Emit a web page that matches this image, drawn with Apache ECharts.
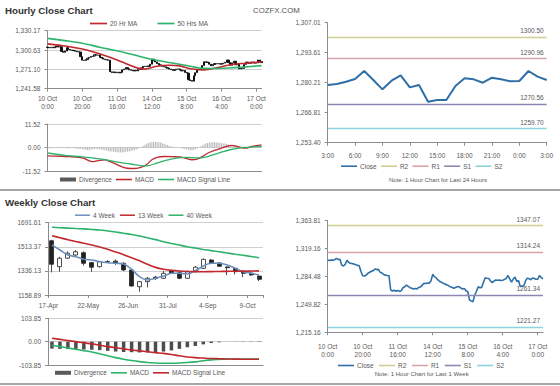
<!DOCTYPE html>
<html><head><meta charset="utf-8">
<script src="https://cdn.jsdelivr.net/npm/echarts@6/dist/echarts.min.js"></script>
<style>html,body{margin:0;padding:0;background:#fff}#c{width:560px;height:386px}</style>
</head><body><div id="c"></div>
<script>
// ================= DATA =================
// Hourly (last 1 week) category days / hours per day
const hourDays = ['10 Oct','11 Oct','14 Oct','15 Oct','16 Oct','17 Oct'];
const hoursPerDay = [24,24,24,24,24,4];
// Hourly close prices (10 Oct 0:00 .. 17 Oct 3:00)
const hourlyClose = [
 1304.5,1304.0,1304.8,1304.2,1305.0,1306.7,1305.2,1305.6,1298.5,1297.2,
 1299.2,1304.3,1301.5,1300.6,1300.2,1299.8,1298.9,1298.0,1297.6,1290.5,
 1285.2,1284.8,1286.0,1288.2,1289.5,1290.8,1291.5,1293.5,1292.8,1293.0,
 1289.4,1288.5,1286.8,1285.9,1285.5,1285.2,1267.5,1266.3,1267.2,1266.0,
 1266.8,1265.8,1266.5,1270.4,1271.5,1273.7,1272.0,1270.4,1269.8,1268.8,
 1269.5,1268.8,1270.8,1271.2,1273.5,1275.8,1275.5,1276.0,1275.8,1279.0,
 1286.9,1284.0,1282.5,1280.0,1278.0,1277.0,1275.8,1275.0,1273.7,1273.0,
 1271.5,1270.8,1269.6,1270.5,1271.5,1271.8,1270.0,1268.8,1269.5,1266.5,
 1265.4,1255.2,1254.0,1253.1,1261.3,1266.0,1271.5,1270.4,1270.8,1277.0,
 1282.8,1282.0,1281.8,1279.0,1276.6,1278.5,1279.9,1279.5,1279.9,
 1279.17,1279.62,1280.66,1281.85,1285.43,1281.41,1277.24,1281.11,1283.49,1278.13,
 1279.17,1271.73,1272.47,1272.47,1278.73,1282.15,1281.71,1280.21,1282.45,1281.71,
 1280.81,1280.96,1285.43,1282.90,1281.41
];
const hourlyOpen0 = 1305.2;
// moving averages [hour index, value]
const ma20Hr = [[0,1310],[8,1307.5],[16,1304],[24,1299.5],[32,1293],[40,1285.5],[46,1279],[52,1273],[56,1271.5],[62,1275.5],[70,1277.5],[76,1276.5],[82,1272],[90,1270.3],[98,1274],[106,1278.5],[114,1280.5],[123,1282.5]];
const ma50Hr = [[0,1318.5],[10,1315],[20,1311],[30,1305],[40,1299.5],[50,1293],[60,1286.5],[70,1281.5],[80,1277],[88,1273],[96,1272.5],[104,1273.2],[112,1274.5],[123,1276.8]];
// hourly MACD [hour index, value]
const macdHr = [[0,-4.1],[8,-4.3],[13,-4.5],[18,-4.8],[21,-5.3],[24,-6.6],[26,-6.9],[29,-6.4],[33,-6.1],[36,-6.9],[40,-8.4],[44,-9.9],[48,-10.3],[51,-10.2],[54,-9.6],[57,-8.3],[60,-6.0],[63,-4.8],[67,-4.4],[72,-4.5],[77,-4.7],[80,-5.5],[83,-6.0],[86,-5.7],[89,-4.5],[92,-2.8],[96,-1.4],[100,-0.3],[104,0.8],[106,1.0],[109,0.5],[112,-0.2],[114,-0.3],[117,0.4],[120,0.9],[123,1.3]];
const signalHr = [[0,-2.7],[10,-3.9],[20,-4.6],[30,-5.6],[38,-6.8],[45,-7.8],[50,-8.4],[55,-9.0],[58,-8.9],[62,-7.9],[66,-6.8],[70,-5.9],[74,-5.2],[80,-4.8],[86,-5.1],[90,-4.8],[95,-3.6],[100,-2.3],[105,-1.1],[110,-0.3],[115,0.1],[120,0.4],[123,0.6]];
const divergenceHr = [
 -0.4,-0.5,-0.4,-0.3,-0.3,-0.2,-0.3,-0.4,-0.3,-0.2,
 -0.3,-0.4,-0.5,-0.4,-0.3,-0.4,-0.5,-0.6,-0.7,-0.6,
 -0.8,-1.0,-1.1,-1.2,-1.3,-1.1,-0.9,-0.8,-0.7,-0.8,
 -0.9,-1.0,-1.2,-1.4,-1.6,-1.8,-1.9,-2.0,-2.1,-2.2,
 -2.3,-2.4,-2.4,-2.3,-2.3,-2.2,-2.0,-1.9,-1.7,-1.5,
 -1.3,-1.0,-0.6,-0.2,0.3,0.8,1.3,1.8,2.2,2.5,
 2.7,2.8,2.8,2.7,2.6,2.4,2.1,1.8,1.5,1.2,
 0.9,0.6,0.4,0.2,0.1,0.0,-0.2,-0.4,-0.6,-0.8,
 -1.0,-1.2,-1.3,-1.3,-1.2,-0.9,-0.5,0.0,0.5,1.0,
 1.5,1.9,2.2,2.4,2.5,2.6,2.6,2.5,2.4,2.3,
 2.2,2.0,1.9,1.7,1.5,1.3,1.1,0.9,0.8,0.7,
 0.6,0.5,0.4,0.4,0.3,0.3,0.4,0.4,0.5,0.5,
 0.6,0.6,0.7,0.7
];
// pivot levels
const levelNames = ['R2','R1','S1','S2'];
const levels24h = [1300.50,1290.96,1270.56,1259.70];
const levels1w = [1347.07,1314.24,1261.34,1221.27];
// tick labels
const hourlyPriceTicks = ['1,241.58','1,271.10','1,300.63','1,330.17'];
const hourlyMacdTicks = ['-11.52','0.00','11.52'];
const last24Ticks = ['1,253.40','1,266.81','1,280.21','1,293.61','1,307.01'];
const weeklyPriceTicks = ['1158.89','1336.13','1513.37','1691.61'];
const weeklyMacdTicks = ['-103.85','0.00','103.85'];
const lastWeekTicks = ['1,215.16','1,249.82','1,284.48','1,319.16','1,363.81'];
// weekly
const weeks = ['17-Apr','24-Apr','1-May','8-May','15-May','22-May','29-May','5-Jun','12-Jun','19-Jun','26-Jun','3-Jul','10-Jul','17-Jul','24-Jul','31-Jul','7-Aug','14-Aug','21-Aug','28-Aug','4-Sep','11-Sep','18-Sep','25-Sep','2-Oct','9-Oct','16-Oct'];
const weeklyOpen  = [1558,1367,1430,1453,1470,1397,1367,1400,1408,1392,1343,1220,1257,1290,1282,1335,1323,1282,1330,1355,1416,1395,1365,1355,1335,1320,1298];
const weeklyClose = [1385,1429,1466,1477,1392,1363,1404,1405,1392,1343,1225,1257,1282,1280,1318,1320,1282,1330,1363,1421,1392,1370,1360,1330,1318,1306,1274];
const weeklyLow   = [1325,1330,1425,1445,1375,1330,1362,1395,1380,1335,1220,1183,1215,1270,1278,1315,1275,1278,1325,1350,1388,1365,1305,1310,1290,1300,1262];
const weeklyHigh  = [1565,1440,1480,1490,1480,1400,1408,1415,1420,1400,1350,1262,1290,1300,1335,1345,1335,1340,1372,1428,1422,1400,1368,1365,1340,1330,1305];
const ma4Week  = [1526.6,1489.9,1453.1,1440.6,1421.5,1416.3,1403.9,1396.5,1392.1,1386.9,1347.9,1293.5,1269.2,1281.7,1298.6,1318.5,1318.5,1313.4,1337.6,1372.2,1392.1,1392.1,1379.5,1355.3,1330.3,1318.5,1306.0];
const ma13Week = [1595,1580,1565,1552,1540,1527,1512,1495,1475,1455,1432,1410,1385,1362,1348,1340,1335,1332,1331,1330,1331,1332,1333,1334,1334,1335,1336];
const ma40Week = [1657,1654,1651,1648,1645,1641,1637,1630,1622,1613,1604,1593,1580,1566,1551,1538,1526,1514,1504,1494,1485,1477,1468,1459,1451,1442,1433];
const macdWeek   = [-16,-22,-28,-34,-40,-46,-54,-63,-71,-78,-84,-89,-93,-95,-96,-96,-95,-93,-90,-85,-81,-79,-77,-77,-77,-77,-77];
const signalWeek = [15,10,5,0,-5,-10,-16,-22,-27,-32,-37,-41,-45,-49,-52,-57,-63,-68,-71,-73,-75,-76,-77,-77.5,-78,-78,-78.5];

// ================= BUILD =================
const hourCats = [];
hourDays.forEach((d, k) => { for (let h = 0; h < hoursPerDay[k]; h++) hourCats.push(d + '\n' + h + ':00'); });
const last24Cats = hourCats.slice(-25);
const last24Close = hourlyClose.slice(-25);
const hourlyCandles = hourlyClose.map((c, i) => {
  const o = i === 0 ? hourlyOpen0 : hourlyClose[i - 1];
  return [o, c, Math.min(o, c), Math.max(o, c)];
});
const weeklyCandles = weeklyOpen.map((o, i) => [o, weeklyClose[i], weeklyLow[i], weeklyHigh[i]]);
const divergenceWeek = macdWeek.map((m, i) => +(m - signalWeek[i]).toFixed(2));

const FONT = '"Liberation Sans", Arial, sans-serif';
const TXT = '#595959';
const AX = '#8c8c8c';
const GRIDC = '#cfcfcf';
const RED = '#c0282e', GREEN = '#2db36c', BLUE = '#2f6fa7', STEEL = '#6b90bb';
const levelColors = ['#cfcf95', '#dba3aa', '#8e86b3', '#8ed3df'];
const lineIcon = 'path://M0,0H16V1.6H0Z';

function yAx(grid, min, max, interval, labels, split) {
  return {
    type: 'value', gridIndex: grid, min: min, max: max, interval: interval, scale: true,
    axisLine: { show: true, lineStyle: { color: AX } },
    axisTick: { show: true, length: 3, lineStyle: { color: AX } },
    splitLine: { show: split, lineStyle: { color: GRIDC } },
    axisLabel: { color: TXT, fontSize: 6.5, fontFamily: FONT, margin: 7, showMinLabel: true, showMaxLabel: true,
      formatter: (v, idx) => labels[idx] !== undefined ? labels[idx] : '' }
  };
}
function xCat(grid, data, gap, showLabel, interval, margin, fmt, pad) {
  return {
    type: 'category', gridIndex: grid, data: data, boundaryGap: gap,
    axisLine: { show: true, onZero: false, lineStyle: { color: AX } },
    axisTick: { show: showLabel, length: 3, interval: interval, lineStyle: { color: AX } },
    splitLine: { show: false },
    axisLabel: { show: showLabel, interval: interval, color: TXT, fontSize: 6.5, fontFamily: FONT,
      lineHeight: 8, margin: margin, padding: pad || 0, formatter: fmt || (v => v) }
  };
}
function legend(left, top, names, gap, iconW, extra) {
  return {
    left: left, top: top, padding: 0, itemGap: gap, itemWidth: iconW, itemHeight: 4,
    selectedMode: false, icon: lineIcon,
    textStyle: { color: TXT, fontSize: 6.5, fontFamily: FONT, padding: [0, 0, 0, -2] },
    data: names.map(n => (extra && extra[n]) ? Object.assign({ name: n }, extra[n]) : { name: n }),
    formatter: n => n.replace(/^w /, '')
  };
}
function levelSeries(prefix, xi, yi, vals) {
  return levelNames.map((nm, k) => ({
    name: prefix + nm, type: 'line', xAxisIndex: xi, yAxisIndex: yi, data: [],
    color: levelColors[k],
    markLine: { silent: true, symbol: 'none', animation: false,
      lineStyle: { type: 'solid', width: 1.3, color: levelColors[k] },
      label: { show: true, position: 'insideEndTop', distance: 3, color: TXT, fontSize: 6.5, fontFamily: FONT,
        formatter: p => vals[k].toFixed(2) },
      data: [{ yAxis: vals[k] }] }
  }));
}

const option = {
  animation: false,
  backgroundColor: '#fff',
  grid: [
    { left: 47.5, top: 30.7, width: 214, height: 58 },
    { left: 47.5, top: 124, width: 214, height: 47 },
    { left: 327.7, top: 22.7, width: 219, height: 120 },
    { left: 48, top: 222.7, width: 215, height: 72.3 },
    { left: 48, top: 318.3, width: 215, height: 46.7 },
    { left: 327.7, top: 220.3, width: 215.3, height: 112 }
  ],
  xAxis: [
    xCat(0, hourCats, false, true, 19, 6),
    xCat(1, hourCats, false, false, 19, 6),
    xCat(2, last24Cats, false, true, 2, 8.5, v => v.split('\n')[1]),
    xCat(3, weeks, true, true, 4, 6, null, [0, 7, 0, 0]),
    xCat(4, weeks, true, false, 4, 6),
    xCat(5, hourCats, false, true, 19, 10)
  ],
  yAxis: [
    yAx(0, 1241.58, 1330.17, 29.53, hourlyPriceTicks, true),
    yAx(1, -11.52, 11.52, 11.52, hourlyMacdTicks, true),
    yAx(2, 1253.40, 1307.01, 13.4025, last24Ticks, false),
    yAx(3, 1158.89, 1690.61, 177.24, weeklyPriceTicks, true),
    yAx(4, -103.85, 103.85, 103.85, weeklyMacdTicks, true),
    yAx(5, 1215.16, 1353.80, 34.66, lastWeekTicks, false)
  ],
  legend: [
    legend(90, 20, ['20 Hr MA', '50 Hrs MA'], 20, 17),
    legend(60, 176, ['Divergence', 'MACD', 'MACD Signal Line'], 4, 16,
      { 'Divergence': { icon: 'rect', itemStyle: { color: '#5a5a5a' } } }),
    legend(341, 162.7, ['Close', 'R2', 'R1', 'S1', 'S2'], 4.3, 16),
    legend(75, 211.7, ['4 Week', '13 Week', '40 Week'], 5, 15),
    legend(55, 369.3, ['w Divergence', 'w MACD', 'w MACD Signal Line'], 4, 16,
      { 'w Divergence': { icon: 'rect', itemStyle: { color: '#5a5a5a' } } }),
    legend(338, 362, ['w Close', 'w R2', 'w R1', 'w S1', 'w S2'], 5.5, 16)
  ],
  series: [
    { name: 'Hourly', type: 'candlestick', xAxisIndex: 0, yAxisIndex: 0, data: hourlyCandles, barWidth: 1.7,
      itemStyle: { color: '#ffffff', color0: '#111111', borderColor: '#111111', borderColor0: '#111111', borderWidth: 1 } },
    { name: '20 Hr MA', type: 'line', xAxisIndex: 0, yAxisIndex: 0, data: ma20Hr, smooth: 0.3, symbol: 'none', color: RED, lineStyle: { width: 1.6 } },
    { name: '50 Hrs MA', type: 'line', xAxisIndex: 0, yAxisIndex: 0, data: ma50Hr, smooth: 0.3, symbol: 'none', color: GREEN, lineStyle: { width: 1.6 } },
    { name: 'Divergence', type: 'bar', xAxisIndex: 1, yAxisIndex: 1, data: divergenceHr, barWidth: 1, color: '#b5b5b5' },
    { name: 'MACD', type: 'line', xAxisIndex: 1, yAxisIndex: 1, data: macdHr, smooth: 0.3, symbol: 'none', color: RED, lineStyle: { width: 1.3 } },
    { name: 'MACD Signal Line', type: 'line', xAxisIndex: 1, yAxisIndex: 1, data: signalHr, smooth: 0.3, symbol: 'none', color: GREEN, lineStyle: { width: 1.3 } },
    { name: 'Close', type: 'line', xAxisIndex: 2, yAxisIndex: 2, data: last24Close, symbol: 'none', color: BLUE, lineStyle: { width: 2 } },
    ...levelSeries('', 2, 2, levels24h),
    { name: 'Weekly', type: 'candlestick', xAxisIndex: 3, yAxisIndex: 3, data: weeklyCandles, barWidth: 4.5,
      itemStyle: { color: '#ffffff', color0: '#222222', borderColor: '#222222', borderColor0: '#222222', borderWidth: 0.8 } },
    { name: '4 Week', type: 'line', xAxisIndex: 3, yAxisIndex: 3, data: ma4Week, smooth: 0.3, symbol: 'none', color: STEEL, lineStyle: { width: 1.6 } },
    { name: '13 Week', type: 'line', xAxisIndex: 3, yAxisIndex: 3, data: ma13Week, smooth: 0.3, symbol: 'none', color: RED, lineStyle: { width: 1.6 } },
    { name: '40 Week', type: 'line', xAxisIndex: 3, yAxisIndex: 3, data: ma40Week, smooth: 0.3, symbol: 'none', color: GREEN, lineStyle: { width: 1.6 } },
    { name: 'w Divergence', type: 'bar', xAxisIndex: 4, yAxisIndex: 4, data: divergenceWeek, barWidth: 3.5, color: '#4d4d4d' },
    { name: 'w MACD', type: 'line', xAxisIndex: 4, yAxisIndex: 4, data: macdWeek, smooth: 0.3, symbol: 'none', color: GREEN, lineStyle: { width: 1.6 } },
    { name: 'w MACD Signal Line', type: 'line', xAxisIndex: 4, yAxisIndex: 4, data: signalWeek, smooth: 0.3, symbol: 'none', color: RED, lineStyle: { width: 1.6 } },
    { name: 'w Close', type: 'line', xAxisIndex: 5, yAxisIndex: 5, data: hourlyClose, symbol: 'none', color: BLUE, lineStyle: { width: 1.6 } },
    ...levelSeries('w ', 5, 5, levels1w)
  ],
  graphic: [
    { type: 'text', x: 5, y: 10, style: { text: 'Hourly Close Chart', font: 'bold 9.7px ' + FONT, fill: '#333', verticalAlign: 'middle' } },
    { type: 'text', x: 253, y: 10, style: { text: 'COZFX.COM', font: '7.8px ' + FONT, fill: '#555', verticalAlign: 'middle' } },
    { type: 'text', x: 438, y: 180, style: { text: 'Note: 1 Hour Chart for Last 24 Hours', font: '6px ' + FONT, fill: TXT, align: 'center', verticalAlign: 'middle' } },
    { type: 'line', shape: { x1: 0, y1: 190, x2: 560, y2: 190 }, style: { stroke: '#a6a6a6', lineWidth: 2 } },
    { type: 'text', x: 5, y: 202.5, style: { text: 'Weekly Close Chart', font: 'bold 9.7px ' + FONT, fill: '#333', verticalAlign: 'middle' } },
    { type: 'text', x: 421.7, y: 373.5, style: { text: 'Note: 1 Hour Chart for Last 1 Week', font: '6px ' + FONT, fill: TXT, align: 'center', verticalAlign: 'middle' } },
    { type: 'line', shape: { x1: 0, y1: 384, x2: 560, y2: 384 }, style: { stroke: '#a6a6a6', lineWidth: 2 } }
  ]
};
const chart = echarts.init(document.getElementById('c'), null, { renderer: 'svg', width: 560, height: 386 });
chart.setOption(option);
</script></body></html>
